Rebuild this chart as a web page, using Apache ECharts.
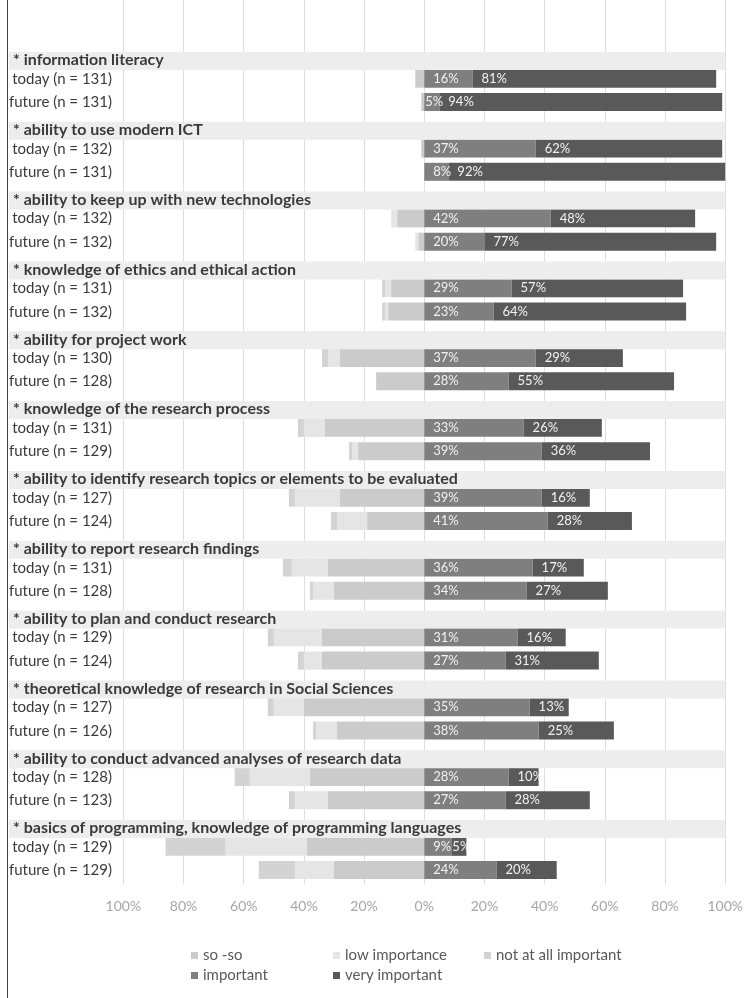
<!DOCTYPE html>
<html>
<head>
<meta charset="utf-8">
<script src="https://cdn.jsdelivr.net/npm/echarts@6/dist/echarts.min.js"></script>
<style>
  html, body { margin: 0; padding: 0; background: #ffffff; }
  #chart { width: 746px; height: 998px; }
</style>
</head>
<body>
<div id="chart"></div>
<script>
// Skills rated by respondents, today vs. in the future (shares in %)
const skills = [
  'information literacy',
  'ability to use modern ICT',
  'ability to keep up with new technologies',
  'knowledge of ethics and ethical action',
  'ability for project work',
  'knowledge of the research process',
  'ability to identify research topics or elements to be evaluated',
  'ability to report research findings',
  'ability to plan and conduct research',
  'theoretical knowledge of research in Social Sciences',
  'ability to conduct advanced analyses of research data',
  'basics of programming, knowledge of programming languages'
];
const nToday  = [131, 132, 132, 131, 130, 131, 127, 131, 129, 127, 128, 129];
const nFuture = [131, 131, 132, 132, 128, 129, 124, 128, 124, 126, 123, 129];

// left side of the scale (drawn as negative shares)
const sosoToday   = [3, 1, 9, 11, 28, 33, 28, 32, 34, 40, 38, 39];
const lowToday    = [0, 0, 2, 2, 4, 7, 15, 12, 16, 10, 20, 27];
const notToday    = [0, 0, 0, 1, 2, 2, 2, 3, 2, 2, 5, 20];
const sosoFuture  = [1, 0, 2, 12, 16, 22, 19, 30, 34, 29, 32, 30];
const lowFuture   = [0, 0, 1, 1, 0, 2, 10, 7, 6, 7, 11, 13];
const notFuture   = [0, 0, 0, 1, 0, 1, 2, 1, 2, 1, 2, 12];

// right side of the scale
const importantToday  = [16, 37, 42, 29, 37, 33, 39, 36, 31, 35, 28, 9];
const veryToday       = [81, 62, 48, 57, 29, 26, 16, 17, 16, 13, 10, 5];
const importantFuture = [5, 8, 20, 23, 28, 39, 41, 34, 27, 38, 27, 24];
const veryFuture      = [94, 92, 77, 64, 55, 36, 28, 27, 31, 25, 28, 20];

const seriesNames = ['so -so', 'low importance', 'not at all important', 'important', 'very important'];

const FONT = 'Lato, "Liberation Sans", sans-serif';
const COLORS = ['#cbcbcb', '#e5e5e5', '#d3d3d3', '#7f7f7f', '#595959'];

// Row layout: two empty rows on top, then per skill a heading row and two answer rows
const rowNames = ['', ''];
const rowKind = ['blank', 'blank'];
const rowRef = [null, null];
skills.forEach((s, i) => {
  rowNames.push('* ' + s);                          rowKind.push('head');   rowRef.push(i);
  rowNames.push('today (n = ' + nToday[i] + ')');   rowKind.push('today');  rowRef.push(i);
  rowNames.push('future (n = ' + nFuture[i] + ')'); rowKind.push('future'); rowRef.push(i);
});

function column(todayArr, futureArr, sign) {
  return rowKind.map((k, r) => {
    if (k === 'today') return sign * todayArr[rowRef[r]];
    if (k === 'future') return sign * futureArr[rowRef[r]];
    return '-';
  });
}
function labelled(values) {
  return values.map(v => v === '-' ? v : { value: v, label: { distance: v <= 5 ? 1 : 9 } });
}

// heading band reaches from the left border to the right end of the scale
const BAND_LEFT = -138;
const BAND_RIGHT = 101;
const bandL = rowKind.map(k => k === 'head' ? BAND_LEFT : '-');
const bandR = rowKind.map(k => k === 'head' ? BAND_RIGHT : '-');

const BAR_W = 18;
const GAP = '-69.4%';

const valueLabel = {
  show: true,
  position: 'insideLeft',
  color: '#f2f2f2',
  fontFamily: FONT,
  fontSize: 13,
  formatter: p => p.value + '%'
};

function dataSeries(name, data, color, label) {
  return {
    name, type: 'bar', stack: 'answers', data,
    barWidth: BAR_W, barGap: GAP,
    itemStyle: { color },
    label: label || { show: false },
    emphasis: { disabled: true },
    animation: false
  };
}

const series = [
  dataSeries(seriesNames[0], column(sosoToday, sosoFuture, -1), COLORS[0]),
  dataSeries(seriesNames[1], column(lowToday, lowFuture, -1), COLORS[1]),
  dataSeries(seriesNames[2], column(notToday, notFuture, -1), COLORS[2]),
  dataSeries(seriesNames[3], labelled(column(importantToday, importantFuture, 1)), COLORS[3], valueLabel),
  dataSeries(seriesNames[4], labelled(column(veryToday, veryFuture, 1)), COLORS[4], valueLabel),
  { name: 'bandL', type: 'bar', stack: 'band', data: bandL, barWidth: BAR_W, barGap: GAP,
    itemStyle: { color: '#ededed' }, silent: true, animation: false },
  { name: 'bandR', type: 'bar', stack: 'band', data: bandR, barWidth: BAR_W, barGap: GAP,
    itemStyle: { color: '#ededed' }, silent: true, animation: false }
];

// split line colours: the two ticks left of -100 stay invisible
const splitColors = [];
for (let v = -140; v <= 100; v += 20) splitColors.push(v < -100 ? 'rgba(0,0,0,0)' : '#dedede');

function legendAt(name, left, top) {
  return {
    data: [name], left, top, padding: 0,
    icon: 'rect', itemWidth: 7, itemHeight: 7,
    selectedMode: false,
    textStyle: { fontFamily: FONT, fontSize: 15, color: '#595959' }
  };
}

const chart = echarts.init(document.getElementById('chart'), null, { renderer: 'canvas' });
chart.setOption({
  backgroundColor: '#ffffff',
  animation: false,
  textStyle: { fontFamily: FONT },
  grid: { left: 2, right: 20, top: -7.5, bottom: 113.5, containLabel: false },
  xAxis: {
    type: 'value', min: -140, max: 100, interval: 20,
    axisLine: { show: false }, axisTick: { show: false },
    axisLabel: {
      color: '#a6a6a6', fontSize: 14, fontFamily: FONT, margin: 15,
      formatter: v => (v < -100 ? '' : Math.abs(v) + '%')
    },
    splitLine: { show: true, lineStyle: { color: splitColors, width: 1 } }
  },
  yAxis: {
    type: 'category', inverse: true, data: rowNames, z: 10,
    axisLine: { show: false }, axisTick: { show: false }, splitLine: { show: false },
    axisLabel: {
      inside: true, margin: 10, interval: 0,
      formatter: (value, idx) => {
        const k = rowKind[idx];
        if (k === 'head') return '{h|' + value + '}';
        if (k === 'today' || k === 'future') return '{r|' + value + '}';
        return '';
      },
      rich: {
        h: { fontFamily: FONT, fontWeight: 'bold', fontSize: 16, color: '#3a3a3a', padding: [4, 0, 0, 0] },
        r: { fontFamily: FONT, fontSize: 15, color: '#3a3a3a', width: 99, align: 'right', padding: [0, 0, 5, 0] }
      }
    }
  },
  legend: [
    legendAt(seriesNames[0], 191, 948),
    legendAt(seriesNames[1], 333, 948),
    legendAt(seriesNames[2], 484, 948),
    legendAt(seriesNames[3], 191, 968),
    legendAt(seriesNames[4], 333, 968)
  ],
  graphic: [{
    type: 'line', z: 100,
    shape: { x1: 7.5, y1: 0, x2: 7.5, y2: 998 },
    style: { stroke: '#404040', lineWidth: 1 }
  }],
  series
});
</script>
</body>
</html>
